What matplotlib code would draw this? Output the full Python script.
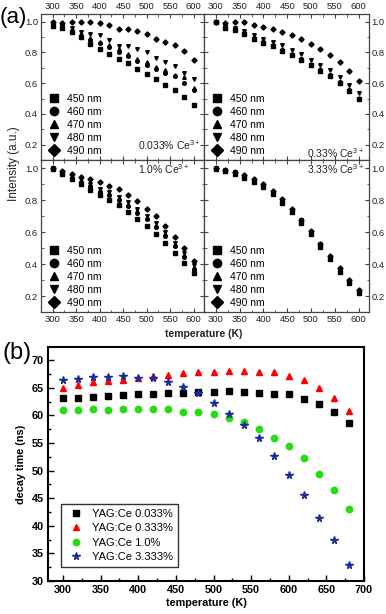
import numpy as np
import matplotlib
matplotlib.use('Agg')
import matplotlib.pyplot as plt
from matplotlib.ticker import MultipleLocator

plt.rcParams['font.family'] = ['Liberation Sans', 'DejaVu Sans']
plt.rcParams['mathtext.fontset'] = 'custom'
plt.rcParams['mathtext.rm'] = 'Liberation Sans'

# ---- panel (a) data: normalized intensity vs temperature ----
temp_a = [300, 320, 340, 360, 380, 400, 420, 440, 460, 480, 500, 520, 540, 560, 580, 600]
wavelengths = ['450 nm', '460 nm', '470 nm', '480 nm', '490 nm']
markers_a = ['s', 'o', '^', 'v', 'D']

# 0.033% Ce
c0033 = [
    [0.97, 0.96, 0.93, 0.90, 0.855, 0.82, 0.79, 0.76, 0.73, 0.69, 0.66, 0.627, 0.59, 0.556, 0.51, 0.456],
    [0.98, 0.97, 0.94, 0.91, 0.88, 0.86, 0.835, 0.805, 0.775, 0.745, 0.72, 0.69, 0.665, 0.645, 0.60, 0.555],
    [0.98, 0.975, 0.95, 0.92, 0.895, 0.87, 0.85, 0.82, 0.79, 0.76, 0.735, 0.705, 0.685, 0.655, 0.64, 0.57],
    [0.99, 0.98, 0.96, 0.93, 0.92, 0.915, 0.88, 0.845, 0.845, 0.82, 0.80, 0.765, 0.74, 0.71, 0.665, 0.625],
    [1.00, 0.99, 1.00, 1.00, 1.00, 0.99, 0.98, 0.955, 0.955, 0.94, 0.92, 0.89, 0.87, 0.85, 0.81, 0.75],
]
# 0.33% Ce
c033 = [
    [0.995, 0.96, 0.945, 0.92, 0.885, 0.86, 0.84, 0.81, 0.78, 0.75, 0.715, 0.68, 0.645, 0.60, 0.55, 0.495],
    [1.0, 0.965, 0.95, 0.925, 0.89, 0.865, 0.845, 0.815, 0.785, 0.755, 0.72, 0.685, 0.65, 0.605, 0.555, 0.50],
    [1.0, 0.97, 0.955, 0.93, 0.90, 0.87, 0.85, 0.82, 0.79, 0.76, 0.725, 0.69, 0.655, 0.61, 0.56, 0.505],
    [1.0, 0.975, 0.96, 0.94, 0.915, 0.885, 0.87, 0.85, 0.815, 0.79, 0.75, 0.72, 0.685, 0.64, 0.59, 0.535],
    [1.0, 0.99, 1.0, 0.995, 0.98, 0.965, 0.955, 0.935, 0.915, 0.887, 0.855, 0.82, 0.785, 0.74, 0.68, 0.615],
]
# 1.0% Ce
c10 = [
    [0.995, 0.96, 0.93, 0.90, 0.865, 0.83, 0.80, 0.767, 0.727, 0.683, 0.636, 0.59, 0.53, 0.47, 0.406, 0.343],
    [0.995, 0.965, 0.94, 0.915, 0.885, 0.85, 0.83, 0.80, 0.76, 0.72, 0.68, 0.63, 0.575, 0.51, 0.445, 0.37],
    [1.0, 0.97, 0.945, 0.92, 0.89, 0.86, 0.84, 0.81, 0.77, 0.73, 0.69, 0.64, 0.585, 0.52, 0.455, 0.378],
    [1.0, 0.975, 0.95, 0.93, 0.90, 0.867, 0.85, 0.82, 0.785, 0.745, 0.70, 0.654, 0.597, 0.534, 0.469, 0.392],
    [1.0, 0.98, 0.96, 0.945, 0.93, 0.91, 0.89, 0.867, 0.83, 0.794, 0.745, 0.70, 0.636, 0.57, 0.50, 0.42],
]
# 3.33% Ce
c333 = [
    [0.995, 0.98, 0.963, 0.935, 0.91, 0.88, 0.837, 0.784, 0.726, 0.657, 0.587, 0.508, 0.43, 0.353, 0.282, 0.22],
    [0.998, 0.982, 0.967, 0.94, 0.915, 0.885, 0.842, 0.789, 0.731, 0.662, 0.592, 0.513, 0.435, 0.358, 0.286, 0.224],
    [1.0, 0.985, 0.97, 0.945, 0.92, 0.89, 0.847, 0.794, 0.736, 0.667, 0.597, 0.518, 0.44, 0.363, 0.29, 0.228],
    [1.0, 0.988, 0.972, 0.95, 0.925, 0.895, 0.852, 0.80, 0.74, 0.672, 0.602, 0.523, 0.445, 0.367, 0.294, 0.231],
    [1.0, 0.99, 0.975, 0.955, 0.93, 0.90, 0.857, 0.805, 0.745, 0.677, 0.607, 0.528, 0.45, 0.372, 0.298, 0.235],
]

# ---- panel (b) data: decay time vs temperature ----
temp_b = [300, 320, 340, 360, 380, 400, 420, 440, 460, 480, 500, 520, 540, 560, 580, 600, 620, 640, 660, 680]
tau_0033 = [63.2, 63.2, 63.3, 63.6, 63.7, 63.8, 63.8, 64.1, 64.1, 64.2, 64.3, 64.4, 64.2, 64.1, 63.9, 63.8, 63.0, 62.1, 60.6, 58.6]
tau_0333 = [65.0, 65.6, 66.0, 66.3, 66.4, 66.8, 67.1, 67.4, 67.6, 67.9, 67.9, 68.1, 68.1, 67.9, 67.8, 67.2, 66.4, 65.0, 63.2, 60.8]
tau_10 = [61.0, 61.0, 61.1, 60.9, 61.2, 61.2, 61.2, 61.1, 60.7, 60.6, 60.25, 59.5, 58.8, 57.5, 56.0, 54.4, 52.2, 49.3, 46.5, 43.0]
tau_3333 = [66.5, 66.6, 66.9, 66.9, 67.2, 66.8, 66.8, 66.1, 65.2, 64.0, 62.3, 60.25, 58.3, 55.9, 52.7, 49.2, 45.6, 41.5, 37.4, 32.9]

fig = plt.figure(figsize=(3.86, 6.14), dpi=100)

# axes positions for the 2x2 grid
x0, xm, x1 = 41 / 386, 204 / 386, 369 / 386
y0, ym, y1 = 1 - 312 / 614, 1 - 160 / 614, 1 - 14 / 614
panels = [
    (c0033, [x0, ym, xm - x0, y1 - ym], '0.033% Ce$^{3+}$', (0.98, 0.10), 'top', 'left'),
    (c033, [xm, ym, x1 - xm, y1 - ym], '0.33% Ce$^{3+}$', (0.97, 0.05), 'top', 'right'),
    (c10, [x0, y0, xm - x0, ym - y0], '1.0% Ce$^{3+}$', (0.91, 0.94), 'bottom', 'left'),
    (c333, [xm, y0, x1 - xm, ym - y0], '3.33% Ce$^{3+}$', (0.97, 0.94), 'bottom', 'right'),
]
gray = '#444444'
for data, pos, label, lpos, xside, yside in panels:
    ax = fig.add_axes(pos)
    for vals, m, name in zip(data, markers_a, wavelengths):
        ax.plot(temp_a, vals, linestyle='none', marker=m, color='black', markersize=2.6, label=name)
    ax.set_xlim(275, 622)
    ax.set_ylim(0.1, 1.05)
    ax.xaxis.set_major_locator(MultipleLocator(50))
    ax.xaxis.set_minor_locator(MultipleLocator(25))
    ax.yaxis.set_major_locator(MultipleLocator(0.2))
    ax.yaxis.set_minor_locator(MultipleLocator(0.1))
    ax.tick_params(which='both', direction='in', top=True, right=True, labelsize=6.8,
                   color=gray, labelcolor='#222222', pad=2)
    ax.tick_params(which='major', length=3)
    ax.tick_params(which='minor', length=1.8)
    ax.tick_params(labeltop=(xside == 'top'), labelbottom=(xside == 'bottom'),
                   labelleft=(yside == 'left'), labelright=(yside == 'right'))
    for s in ax.spines.values():
        s.set_color(gray)
        s.set_linewidth(0.9)
    ax.text(lpos[0], lpos[1], label, transform=ax.transAxes, ha='right', va='center',
            fontsize=7.5, color='#222222')
    ax.legend(loc='lower left', bbox_to_anchor=(0.0, -0.02), frameon=False, fontsize=7.5,
              markerscale=2.3, handlelength=1.0, handletextpad=0.8, labelspacing=0.28,
              borderaxespad=0.3)

fig.text(0.036, 1 - 164 / 614, 'Intensity (a.u.)', rotation=90, ha='center', va='center',
         fontsize=8.5, color='#222222')
fig.text(204 / 386, 1 - 334 / 614, 'temperature (K)', ha='center', va='center',
         fontsize=7.5, fontweight='bold', color='#222222')
fig.text(13.5 / 386, 1 - 18 / 614, '(a)', ha='center', va='center', fontsize=16)
fig.text(17 / 386, 1 - 353 / 614, '(b)', ha='center', va='center', fontsize=17)

# ---- panel (b) ----
axb = fig.add_axes([48 / 386, 1 - 581 / 614, 316 / 386, 234 / 614])
axb.plot(temp_b, tau_0033, linestyle='none', marker='s', markersize=4.2, color='black', label='YAG:Ce 0.033%')
axb.plot(temp_b, tau_0333, linestyle='none', marker='^', markersize=4.8, color='#ff0000', label='YAG:Ce 0.333%')
axb.plot(temp_b, tau_10, linestyle='none', marker='o', markersize=4.6, color='#22dd11', label='YAG:Ce 1.0%')
axb.plot(temp_b, tau_3333, linestyle='none', marker='*', markersize=5.5, color='#1a2d9a', label='YAG:Ce 3.333%')
axb.set_xlim(280, 700)
axb.set_ylim(30, 72.4)
axb.xaxis.set_major_locator(MultipleLocator(50))
axb.xaxis.set_minor_locator(MultipleLocator(25))
axb.yaxis.set_major_locator(MultipleLocator(5))
axb.yaxis.set_minor_locator(MultipleLocator(2.5))
axb.tick_params(which='both', direction='in', labelsize=7.8, pad=3, width=1.0)
axb.tick_params(which='major', length=4)
axb.tick_params(which='minor', length=2.5)
for lab in axb.get_xticklabels() + axb.get_yticklabels():
    lab.set_fontweight('bold')
for s in axb.spines.values():
    s.set_linewidth(1.5)
axb.set_xlabel('temperature (K)', fontsize=7.8, fontweight='bold', labelpad=2)
axb.set_ylabel('decay time (ns)', fontsize=7.8, fontweight='bold', labelpad=4)
leg = axb.legend(loc='lower left', bbox_to_anchor=(0.041, 0.061), fontsize=8, fancybox=False,
                 edgecolor='#333333', framealpha=1, handlelength=1.8, handletextpad=0.55,
                 labelspacing=0.38, borderpad=0.45, borderaxespad=0, markerscale=1.0)
leg.get_frame().set_linewidth(1.0)

fig.savefig('out.png', dpi=100)
